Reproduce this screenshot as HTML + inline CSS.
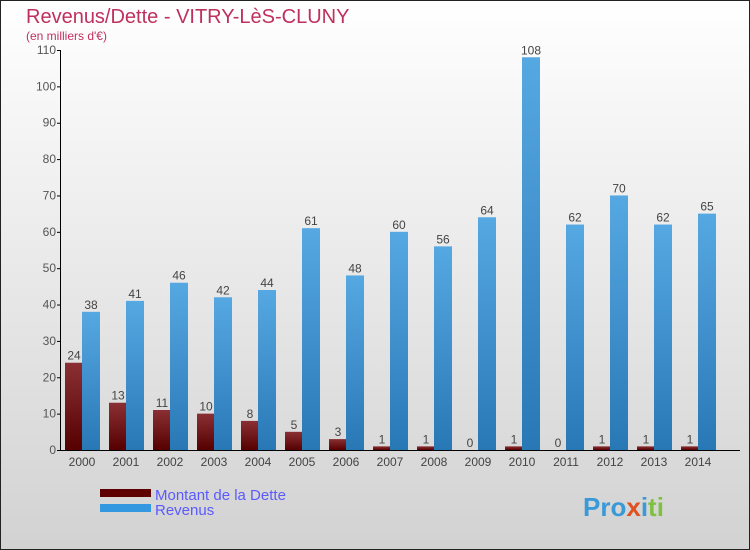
<!DOCTYPE html>
<html><head><meta charset="utf-8"><style>
body{margin:0;}
#c{width:750px;height:550px;position:relative;overflow:hidden;}
svg text{font-family:"Liberation Sans",sans-serif;}
</style></head><body>
<div id="c">
<svg id="s" width="750" height="550" xmlns="http://www.w3.org/2000/svg">
<defs>
<linearGradient id="bg" x1="0" y1="0" x2="0" y2="1"><stop offset="0" stop-color="#ffffff"/><stop offset="1" stop-color="#d2d2d2"/></linearGradient>
<linearGradient id="gd" x1="0" y1="0" x2="0" y2="1"><stop offset="0" stop-color="#8a3034"/><stop offset="1" stop-color="#560000"/></linearGradient>
<linearGradient id="gr" x1="0" y1="0" x2="0" y2="1"><stop offset="0" stop-color="#56a8e2"/><stop offset="1" stop-color="#2878b6"/></linearGradient>
</defs>
<rect x="0.5" y="0.5" width="749" height="549" fill="url(#bg)" stroke="#222"/>
<text x="26" y="23" font-size="20" fill="#c0305e">Revenus/Dette - VITRY-LèS-CLUNY</text>
<text x="26" y="40" font-size="12" fill="#c0305e">(en milliers d'€)</text>
<g id="axes"></g>
<g id="bars"></g>
<rect x="100" y="489" width="51" height="8" fill="#5e0000"/>
<rect x="100" y="504" width="51" height="8" fill="#3398e0"/>
<text x="155" y="500" font-size="15" fill="#5a5aff">Montant de la Dette</text>
<text x="155" y="515" font-size="15" fill="#5a5aff">Revenus</text>
<text x="583" y="516" font-size="26" font-weight="bold" fill="#f0a020"><tspan fill="#3a9ad8">Pro</tspan><tspan fill="#e05020">x</tspan><tspan fill="#3a9ad8">i</tspan><tspan fill="#80c040">ti</tspan></text>
</svg>
</div>
<script>
const years=["2000","2001","2002","2003","2004","2005","2006","2007","2008","2009","2010","2011","2012","2013","2014"];
const dette=[24,13,11,10,8,5,3,1,1,0,1,0,1,1,1];
const revenus=[38,41,46,42,44,61,48,60,56,64,108,62,70,62,65];
const ticks=[0,10,20,30,40,50,60,70,80,90,100,110];
const NS="http://www.w3.org/2000/svg";
const y0=450,ppu=400/110,x0=82,dx=44;
const Y=v=>y0-v*ppu, X=i=>x0+i*dx;
function mk(t,a,p){const e=document.createElementNS(NS,t);for(const k in a)e.setAttribute(k,a[k]);p.appendChild(e);return e;}
const ax=document.getElementById('axes'),bg=document.getElementById('bars');
const yl=mk('line',{x1:60.5,y1:Y(110),x2:60.5,y2:y0,stroke:'#000'},ax);


const xl=mk('line',{x1:60,y1:y0+0.5,x2:740,y2:y0+0.5,stroke:'#000'},ax);


ticks.forEach(t=>{
 const l=mk('line',{x1:57,x2:61,y1:Y(t)+0.5,y2:Y(t)+0.5,stroke:'#000'},ax);
 
 
 const tx=mk('text',{x:56,y:Y(t)+4,'font-size':12,fill:'#555','text-anchor':'end'},ax);
 tx.textContent=t;
 
 
});
years.forEach((yr,i)=>{
 const cx=X(i);
 const tx=mk('text',{x:cx,y:466,'font-size':12,fill:'#444','text-anchor':'middle'},ax);
 tx.textContent=yr;
 
 
 const d=dette[i],r=revenus[i];
 const bd=mk('rect',{x:cx-17,y:Y(d),width:17,height:y0-Y(d),fill:'url(#gd)'},bg);
 
 
 const br=mk('rect',{x:cx,y:Y(r),width:18,height:y0-Y(r),fill:'url(#gr)'},bg);
 
 
 const ld=mk('text',{x:cx-8,y:Y(d)-3,'font-size':12,fill:'#444','text-anchor':'middle'},bg);
 ld.textContent=d;
 
 
 const lr=mk('text',{x:cx+9,y:Y(r)-3,'font-size':12,fill:'#444','text-anchor':'middle'},bg);
 lr.textContent=r;
 
 
});
</script>
</body></html>
